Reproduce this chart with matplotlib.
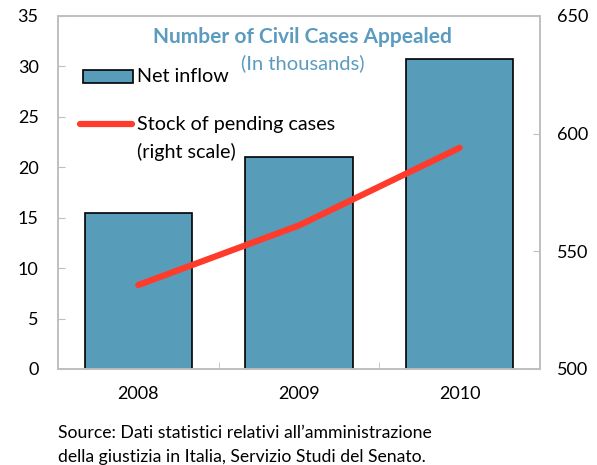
import matplotlib
matplotlib.use("Agg")
import matplotlib.pyplot as plt
from matplotlib.patches import Rectangle
from matplotlib.lines import Line2D

# data
years = ["2008", "2009", "2010"]
net_inflow = [15.5, 21.0, 30.7]          # thousands, left scale
pending_stock = [535.7, 561.0, 594.0]    # thousands, right scale
left_ticks = [0, 5, 10, 15, 20, 25, 30, 35]
right_ticks = [500, 550, 600, 650]

bar_color = "#579DBA"
line_color = "#FF3B2B"
title_color = "#5B9BBF"
frame_color = "#BFBFBF"

plt.rcParams["font.family"] = ["Lato", "DejaVu Sans"]

fig = plt.figure(figsize=(5.97, 4.65), dpi=100)
ax = fig.add_axes([0.0972, 0.2065, 0.8073, 0.7591])
x = list(range(len(years)))

ax.bar(x, net_inflow, width=0.67, color=bar_color, edgecolor="black",
       linewidth=1.2, zorder=2)
ax.set_xlim(-0.5, 2.5)
ax.set_ylim(0, 35)
ax.set_yticks(left_ticks)
ax.set_xticks(x)
ax.set_xticklabels(years)
ax.set_xticks([0.5, 1.5], minor=True)
ax.tick_params(axis="x", which="major", length=0, pad=12, labelsize=13)
ax.tick_params(axis="x", which="minor", direction="in", length=5,
               color=frame_color)
ax.tick_params(axis="y", direction="in", length=5, color=frame_color,
               labelsize=13, pad=14)
for s in ax.spines.values():
    s.set_color(frame_color)
    s.set_linewidth(1.2)

ax2 = ax.twinx()
ax2.plot(x, pending_stock, color=line_color, linewidth=4.5,
         solid_capstyle="round", zorder=3)
ax2.set_ylim(500, 650)
ax2.set_yticks(right_ticks)
ax2.tick_params(axis="y", direction="in", length=5, color=frame_color,
                labelsize=13, pad=12)
for s in ax2.spines.values():
    s.set_color(frame_color)
    s.set_linewidth(1.2)

# title
ax2.text(0.508, 0.940, "Number of Civil Cases Appealed", transform=ax.transAxes,
         ha="center", va="center", fontsize=15, fontweight="bold",
         color=title_color)
ax2.text(0.508, 0.867, "(In thousands)", transform=ax.transAxes,
         ha="center", va="center", fontsize=14.5, color=title_color)

# legend drawn by hand
ax2.add_patch(Rectangle((0.052, 0.810), 0.104, 0.037, transform=ax.transAxes,
                        facecolor=bar_color, edgecolor="black", linewidth=1.2,
                        clip_on=False))
ax2.text(0.164, 0.828, "Net inflow", transform=ax.transAxes, ha="left",
         va="center", fontsize=14.2)
ax2.add_line(Line2D([0.046, 0.154], [0.694, 0.694], transform=ax.transAxes,
                    color=line_color, linewidth=4.5, solid_capstyle="round"))
ax2.text(0.164, 0.694, "Stock of pending cases", transform=ax.transAxes,
         ha="left", va="center", fontsize=14.2)
ax2.text(0.164, 0.615, "(right scale)", transform=ax.transAxes,
         ha="left", va="center", fontsize=14.2)

# source note
fig.text(58 / 597, 1 - 433 / 465, "Source: Dati statistici relativi all\u2019amministrazione",
         ha="left", va="center", fontsize=12.7)
fig.text(58 / 597, 1 - 457 / 465, "della giustizia in Italia, Servizio Studi del Senato.",
         ha="left", va="center", fontsize=12.7)

fig.savefig("out.png", dpi=100)
